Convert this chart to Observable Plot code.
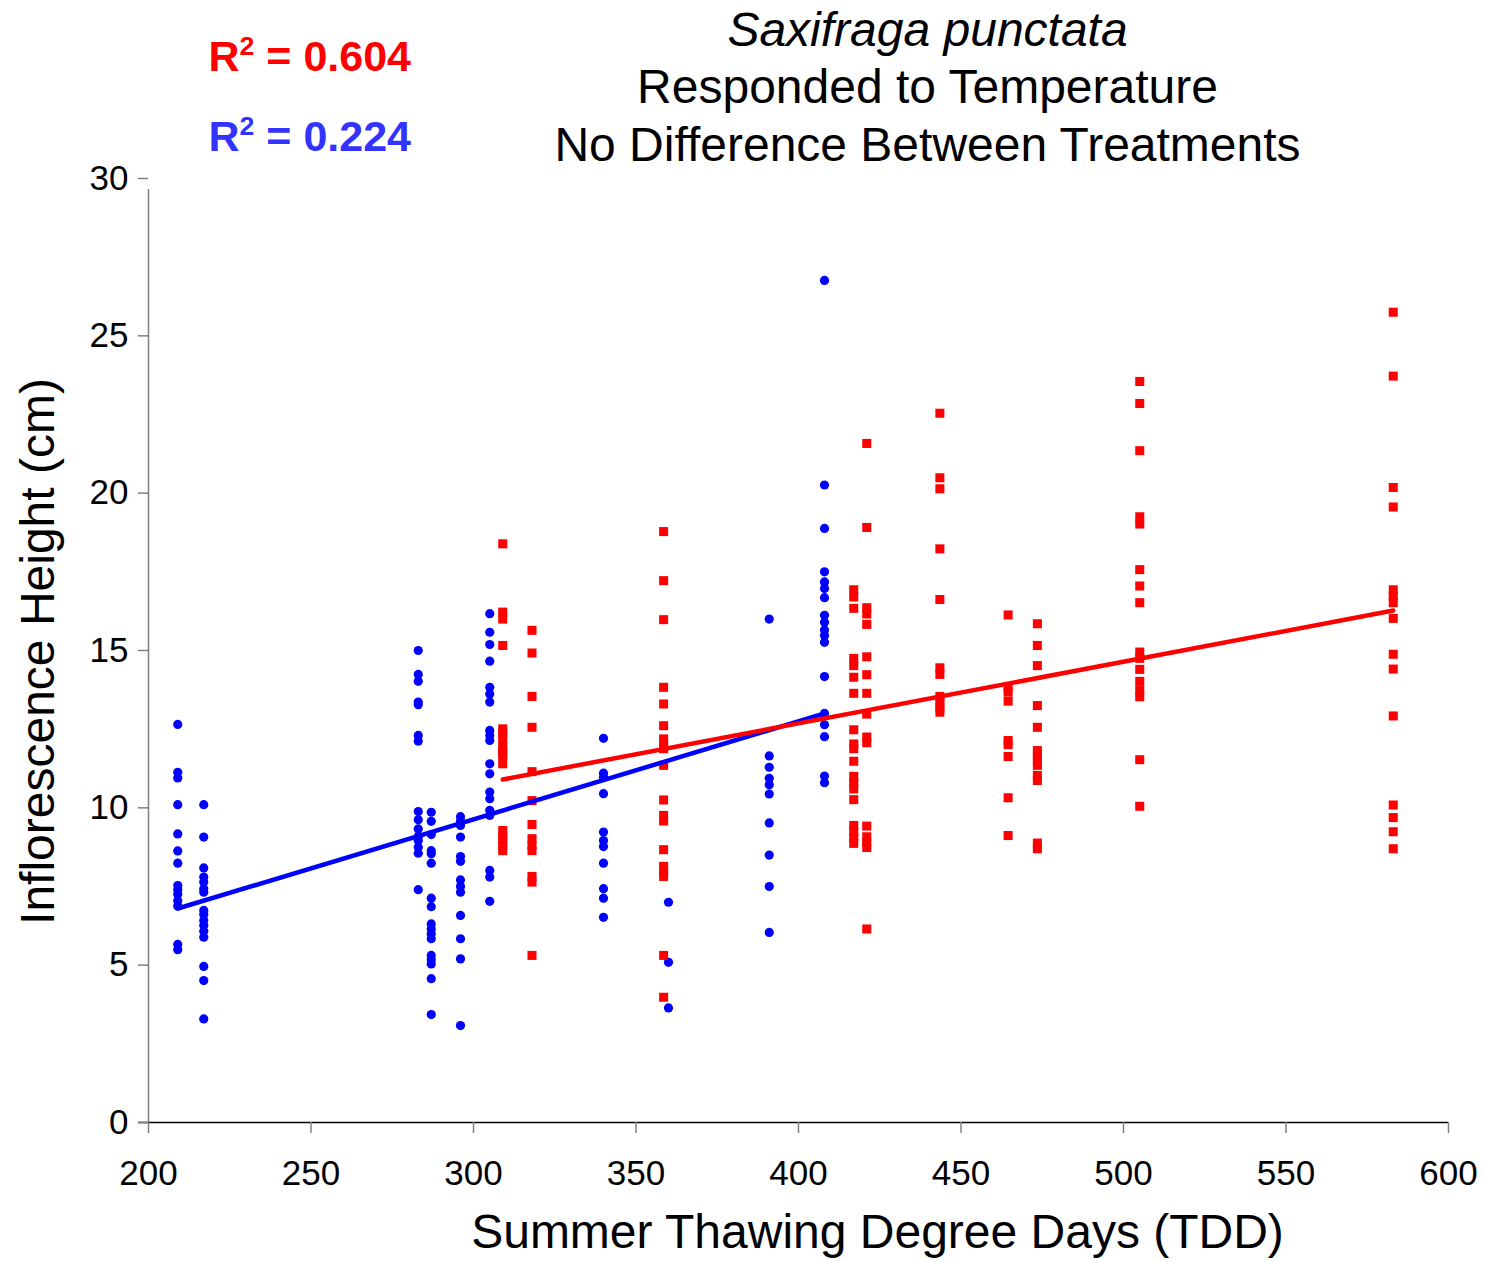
<!DOCTYPE html>
<html>
<head>
<meta charset="utf-8">
<script src="https://cdn.jsdelivr.net/npm/d3@7"></script>
<script src="https://cdn.jsdelivr.net/npm/@observablehq/plot@0.6"></script>
<style>
  html, body { margin: 0; padding: 0; background: #ffffff; }
  #chart { width: 1485px; height: 1261px; }
</style>
</head>
<body>
<div id="chart"></div>
<script>
// ---- Data ----
// Blue circles (one column of heights per TDD value)
const blueTDD = [209, 217, 283, 287, 296, 305, 340, 360, 391, 408];
const blueHeights = [
  [12.65, 11.13, 10.95, 10.1, 9.17, 8.63, 8.24, 7.53, 7.4, 7.25, 7.05, 6.88, 5.66, 5.49],
  [10.1, 9.07, 8.09, 7.8, 7.64, 7.43, 7.32, 6.74, 6.61, 6.42, 6.26, 6.08, 5.89, 4.96, 4.51, 3.29],
  [15.0, 14.24, 14.02, 13.36, 13.28, 12.3, 12.12, 9.88, 9.62, 9.33, 9.09, 8.96, 8.75, 8.56, 7.4],
  [9.86, 9.57, 9.15, 8.64, 8.54, 8.24, 7.13, 6.86, 6.31, 6.15, 6.0, 5.84, 5.31, 5.17, 5.04, 4.57, 3.43],
  [9.72, 9.57, 9.44, 9.07, 8.45, 8.3, 7.71, 7.5, 7.32, 6.58, 5.84, 5.2, 3.08],
  [16.17, 15.58, 15.19, 14.66, 13.83, 13.62, 13.36, 12.46, 12.3, 12.14, 11.4, 11.08, 10.5, 10.29, 9.92, 9.76, 8.01, 7.8, 7.03],
  [12.21, 11.1, 10.97, 10.45, 9.23, 8.96, 8.77, 8.24, 7.43, 7.13, 6.52],
  [7.0, 5.09, 3.64],
  [16.0, 11.65, 11.29, 10.94, 10.73, 10.44, 9.52, 8.5, 7.5, 6.04],
  [26.76, 20.26, 18.88, 17.5, 17.18, 16.97, 16.68, 16.12, 15.9, 15.65, 15.48, 15.26, 14.17, 13.0, 12.64, 12.26, 11.01, 10.8]
];
// Red squares
const redTDD = [309, 318, 358.5, 417, 421, 443.5, 464.5, 473.5, 505, 583];
const redHeights = [
  [18.39, 16.22, 16.0, 15.16, 12.51, 12.35, 12.19, 11.93, 11.77, 11.66, 11.4, 9.28, 9.12, 8.96, 8.8, 8.64],
  [15.64, 14.92, 13.54, 12.56, 11.15, 10.23, 9.47, 9.02, 8.8, 8.64, 7.82, 7.64, 5.31],
  [18.78, 17.22, 15.98, 13.83, 13.3, 12.61, 12.19, 12.03, 11.88, 11.35, 10.25, 9.76, 9.58, 8.67, 8.14, 7.99, 7.82, 5.31, 3.98],
  [16.93, 16.7, 16.34, 14.75, 14.52, 14.15, 13.64, 12.48, 12.03, 11.88, 11.48, 11.0, 10.8, 10.6, 10.26, 9.44, 9.24, 9.04, 8.87],
  [21.58, 18.91, 16.36, 16.16, 15.83, 14.8, 14.23, 13.64, 12.98, 12.25, 12.07, 9.42, 9.08, 8.9, 8.74, 6.15],
  [22.54, 20.49, 20.14, 18.23, 16.62, 14.45, 14.24, 13.54, 13.36, 13.2, 13.04],
  [16.13, 13.8, 13.68, 13.39, 12.14, 12.01, 11.63, 10.32, 9.12],
  [15.85, 15.16, 14.52, 13.25, 12.56, 11.82, 11.66, 11.5, 11.35, 11.03, 10.87, 8.88, 8.7],
  [23.55, 22.85, 21.35, 19.25, 19.02, 17.57, 17.05, 16.52, 14.95, 14.75, 14.4, 14.02, 13.74, 13.53, 11.53, 10.05],
  [25.75, 23.72, 20.18, 19.56, 16.93, 16.73, 16.52, 16.02, 14.88, 14.41, 12.92, 10.09, 9.69, 9.24, 8.7]
];
// Trend lines (end points)
const blueTrendTDD = [209, 408];
const blueTrendHeight = [6.8, 13.0];
const redTrendTDD = [309, 583];
const redTrendHeight = [10.9, 16.27];

// Tick values and labels
const xTicks = [200, 250, 300, 350, 400, 450, 500, 550, 600];
const yTicks = [0, 5, 10, 15, 20, 25, 30];
const titleLines = ["Saxifraga punctata", "Responded to Temperature", "No Difference Between Treatments"];
const r2Values = ["0.604", "0.224"];
const redR2Label = "R\u00B2 = " + r2Values[0];
const blueR2Label = "R\u00B2 = " + r2Values[1];
const xLabel = "Summer Thawing Degree Days (TDD)";
const yLabel = "Inflorescence Height (cm)";

// ---- Build tables ----
const bluePoints = blueTDD.flatMap((t, i) => blueHeights[i].map(h => ({tdd: t, height: h})));
const redPoints = redTDD.flatMap((t, i) => redHeights[i].map(h => ({tdd: t, height: h})));
const blueTrend = blueTrendTDD.map((t, i) => ({tdd: t, height: blueTrendHeight[i]}));
const redTrend = redTrendTDD.map((t, i) => ({tdd: t, height: redTrendHeight[i]}));

const FONT = "'Liberation Sans', Arial, Helvetica, sans-serif";

const chart = Plot.plot({
  width: 1485,
  height: 1261,
  marginLeft: 148,
  marginRight: 37,
  marginTop: 178,
  marginBottom: 139,
  style: {fontFamily: FONT, background: "#ffffff", color: "#000000", overflow: "visible"},
  x: {domain: [200, 600]},
  y: {domain: [0, 30]},
  marks: [
    // axis lines
    Plot.ruleX([200], {y1: 0, y2: 30, stroke: "#808080", strokeWidth: 1.5, insetBottom: -11}),
    Plot.ruleY([0], {stroke: "#000000", strokeWidth: 1.5, insetLeft: -10}),
    Plot.axisY({ticks: yTicks, tickSize: 10, tickPadding: 10, fontSize: 35, stroke: "#808080", fill: "#000000", label: null, strokeWidth: 1.5}),
    Plot.axisX({ticks: xTicks, tickSize: 11, tickPadding: 27, fontSize: 35, stroke: "#808080", fill: "#000000", label: null, strokeWidth: 1.5}),
    // data points
    Plot.dot(bluePoints, {x: "tdd", y: "height", r: 4.6, fill: "#0000FF", stroke: "none"}),
    Plot.dot(redPoints, {x: "tdd", y: "height", symbol: "square", r: 5.1, fill: "#FF0000", stroke: "none"}),
    // trend lines
    Plot.line(blueTrend, {x: "tdd", y: "height", stroke: "#0000FF", strokeWidth: 4.5}),
    Plot.line(redTrend, {x: "tdd", y: "height", stroke: "#FF0000", strokeWidth: 4.5}),
    // title lines
    Plot.text([titleLines[0]], {frameAnchor: "top-left", lineAnchor: "middle", text: d => d, dx: 779, dy: -148, fontSize: 48, fontStyle: "italic", textAnchor: "middle", fill: "#000000"}),
    Plot.text([titleLines[1]], {frameAnchor: "top-left", lineAnchor: "middle", text: d => d, dx: 779, dy: -91, fontSize: 48, textAnchor: "middle", fill: "#000000"}),
    Plot.text([titleLines[2]], {frameAnchor: "top-left", lineAnchor: "middle", text: d => d, dx: 779, dy: -33, fontSize: 48, textAnchor: "middle", fill: "#000000"}),
    // R² labels
    Plot.text([redR2Label], {frameAnchor: "top-left", lineAnchor: "middle", text: d => d, dx: 60, dy: -121, fontSize: 43, fontWeight: "bold", textAnchor: "start", fill: "#FF0000", className: "r2label"}),
    Plot.text([blueR2Label], {frameAnchor: "top-left", lineAnchor: "middle", text: d => d, dx: 60, dy: -41, fontSize: 43, fontWeight: "bold", textAnchor: "start", fill: "#3333FF", className: "r2label"}),
    // axis titles
    Plot.text([xLabel], {frameAnchor: "bottom", lineAnchor: "middle", text: d => d, dx: 79, dy: 110, fontSize: 48, textAnchor: "middle", fill: "#000000"}),
    Plot.text([yLabel], {frameAnchor: "left", lineAnchor: "middle", text: d => d, dx: -110, dy: 1, rotate: -90, fontSize: 48, textAnchor: "middle", fill: "#000000"})
  ]
});

// Render the "2" of R² as a real superscript (larger than the Unicode glyph)
d3.select(chart).selectAll("g.r2label text").each(function() {
  const t = d3.select(this);
  const rest = t.text().replace("R\u00B2", "");
  t.text(null);
  t.append("tspan").text("R");
  t.append("tspan").attr("font-size", "0.62em").attr("dy", "-0.62em").text("2");
  t.append("tspan").attr("dy", "0.385em").text(rest);
});

document.getElementById("chart").appendChild(chart);
</script>
</body>
</html>
